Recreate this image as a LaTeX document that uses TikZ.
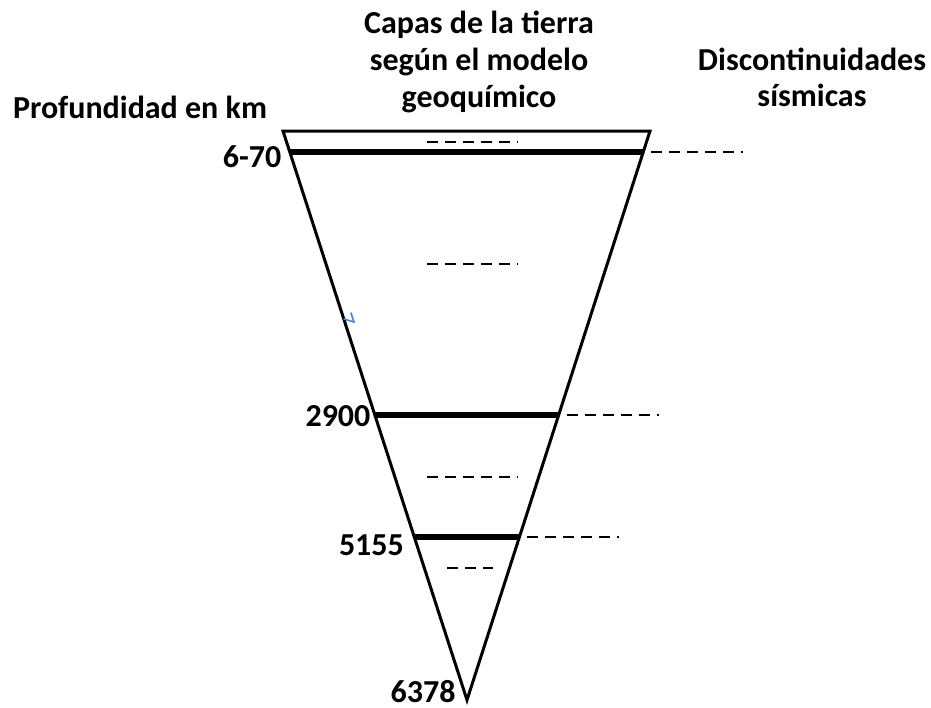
\documentclass[tikz,border=0pt]{standalone}
\usepackage{fontspec}
\setmainfont{Carlito}
\usetikzlibrary{calc, positioning}
\definecolor{ink}{HTML}{000000}
\definecolor{penblue}{HTML}{4F86C6}
\tikzset{
  cone/.style={line width=1.5pt, draw=ink, line join=miter},
  boundary/.style={line width=2.6pt, draw=ink},
  layerdash/.style={line width=1pt, draw=ink, dash pattern=on 5.5pt off 3.5pt},
  depth/.style={font=\fontsize{16}{18}\selectfont\bfseries, inner sep=0pt},
  title/.style={font=\fontsize{16}{18}\selectfont\bfseries, align=center,
                inner sep=0pt},
}
\begin{document}
\begin{tikzpicture}[x=0.5pt, y=-0.5pt]
  \useasboundingbox (0,0) rectangle (931,707);

  %% Titles
  \node[title] (tdepth)  at (140,107) {Profundidad en km};
  \node[title, font=\fontsize{16}{18.5}\selectfont\bfseries] (tlayers) at (479,62)
    {Capas de la tierra\\según el modelo\\geoquímico};
  \node[title] (tdisc)   at (812,77)  {Discontinuidades\\sísmicas};

  %% Cone
  \coordinate (TL) at (283,131);
  \coordinate (TR) at (650,131);
  \coordinate (apex) at (467,700);
  \draw[cone] (TL) -- (TR) -- (apex) -- cycle;

  %% Discontinuities
  \foreach \name/\f in {moho/0.037, gutenberg/0.499, lehmann/0.7135}{
    \draw[boundary] ($(TL)!\f!(apex)$) coordinate (\name L)
      -- ($(TR)!\f!(apex)$) coordinate (\name R);
    \draw[layerdash] ($(\name R)+(8,0)$) -- ++(92,0);
  }

  %% Layers
  \foreach \y in {142, 264, 477}{
    \draw[layerdash] (427,\y) -- ++(91,0);
  }
  \draw[layerdash] (447,568) -- ++(46,0);

  %% Depths
  \node[depth, left=4pt of mohoL, yshift=-2.5pt] (d670) {6-70};
  \node[depth, left=2pt of gutenbergL, yshift=-0.5pt] (d2900) {2900};
  \node[depth, left=5pt of lehmannL, yshift=-4pt] (d5155) {5155};
  \node[depth, left=5.5pt of apex, yshift=4pt] (d6378) {6378};

  %% Pen mark
  \draw[penblue, line width=0.8pt, line cap=round] (351,313) -- (354,322) -- (344,319);
\end{tikzpicture}
\end{document}
